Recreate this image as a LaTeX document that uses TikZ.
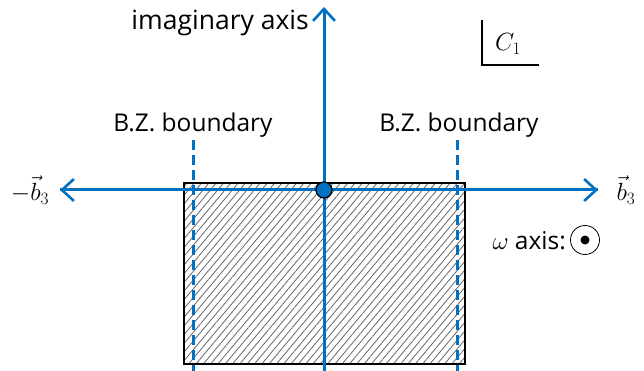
\documentclass[tikz,border=0pt]{standalone}
\usepackage{amsmath, amssymb}
\usepackage{fontspec}
\setmainfont{Open Sans}
\usepackage{tikz}
\usetikzlibrary{arrows.meta, patterns.meta}
\definecolor{axisblue}{RGB}{0,112,192}

\begin{document}
\begin{tikzpicture}[x=1pt,y=-1pt,
    axis/.style={draw=axisblue, line width=3pt, -{Straight Barb[length=12pt,width=22pt,line width=2.6pt]}},
    bzline/.style={draw=axisblue, line width=3pt, dash pattern=on 10pt off 5pt},
    lbl/.style={font=\fontsize{24.5}{28}\selectfont, inner sep=0pt},
    mlbl/.style={font=\fontsize{26}{30}\selectfont, inner sep=0pt}]
      \useasboundingbox (0,0) rectangle (644,371);
      % shaded zone
      \node (zone) [draw, line width=1.2pt, minimum width=281pt, minimum height=181pt, inner sep=0pt, outer sep=0pt,
        pattern={Lines[angle=50,distance=5.6pt,line width=0.8pt]}, pattern color=black!60] at (324.5,273.5) {};
      % B.Z. boundaries
      \coordinate (BL1) at (193,140);
      \coordinate (BL2) at (193,371);
      \coordinate (BR1) at (457,140);
      \coordinate (BR2) at (457,371);
      \draw [bzline] (BL1) -- (BL2);
      \draw [bzline] (BR1) -- (BR2);
      \node (bzl) [lbl] at (193,125) {B.Z. boundary};
      \node (bzr) [lbl] at (459,125) {B.Z. boundary};
      % axes
      \coordinate (W) at (60,190);
      \coordinate (E) at (598,190);
      \coordinate (N) at (324,7);
      \coordinate (S) at (324,371);
      \draw [axis] (E) -- (W);
      \draw [axis] (W) -- (E);
      \draw [axis] (S) -- (N);
      \node (O) [circle, draw, fill=axisblue, line width=1.2pt, minimum size=16pt, inner sep=0pt] at (324,190) {};
      \node (imag) [lbl, font=\fontsize{26.5}{30}\selectfont, anchor=east] at (309,23) {imaginary axis};
      \node (mb) [mlbl] at (30,190) {$-\vec{b}_3$};
      \node (pb) [mlbl] at (626,190) {$\vec{b}_3$};
      % contour label
      \coordinate (C1) at (482,20);
      \coordinate (C2) at (482,65);
      \coordinate (C3) at (539,65);
      \draw [line width=1.4pt] (C1) -- (C2) -- (C3);
      \node (cl) [mlbl] at (508,44) {$C_1$};
      % omega axis
      \node (om) [lbl, anchor=east] at (566,241) {$\omega$ axis:};
      \node (out) [circle, draw, line width=0.8pt, minimum size=29pt, inner sep=0pt] at (585,240) {};
      \fill (out.center) circle (4.5pt);
    \end{tikzpicture}
\end{document}
